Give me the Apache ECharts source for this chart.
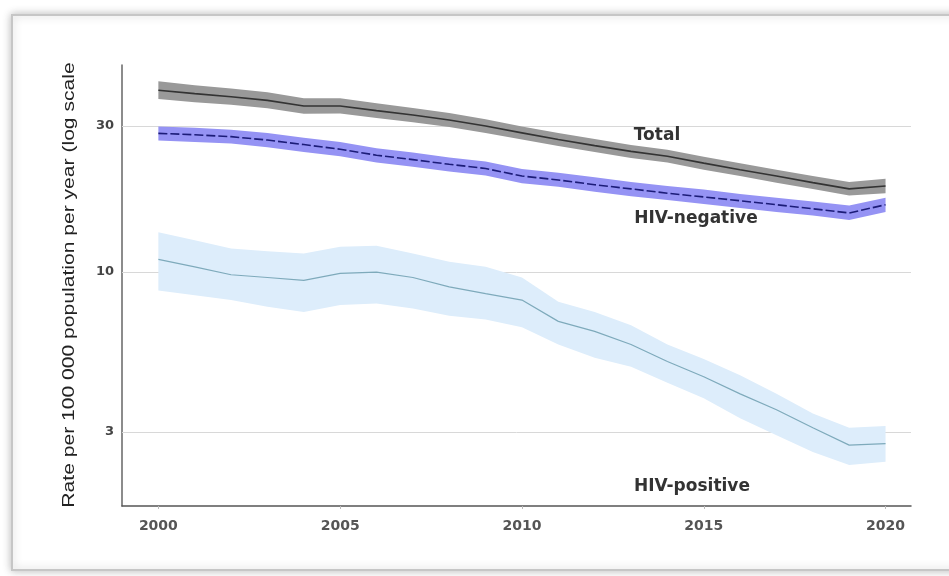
<!DOCTYPE html>
<html>
<head>
<meta charset="utf-8">
<script src="https://cdn.jsdelivr.net/npm/echarts@6/dist/echarts.min.js"></script>
<style>
  html, body { margin: 0; padding: 0; background: #ffffff; }
  #chart { width: 949px; height: 576px; }
</style>
</head>
<body>
<div id="chart"></div>
<script>
// Years on the horizontal axis
const years = [2000, 2001, 2002, 2003, 2004, 2005, 2006, 2007, 2008, 2009, 2010,
               2011, 2012, 2013, 2014, 2015, 2016, 2017, 2018, 2019, 2020];

// Total: estimate with uncertainty interval (rate per 100 000 per year)
const totalMid = [39.3, 38.3, 37.4, 36.4, 34.9, 34.9, 33.7, 32.6, 31.4, 30.0, 28.5,
                  27.1, 25.9, 24.8, 23.9, 22.7, 21.6, 20.6, 19.6, 18.7, 19.1];
const totalHi  = [42.0, 40.8, 39.8, 38.7, 37.0, 37.0, 35.6, 34.4, 33.1, 31.6, 29.9,
                  28.5, 27.2, 26.0, 25.1, 23.8, 22.7, 21.6, 20.6, 19.7, 20.2];
const totalLo  = [36.8, 35.9, 35.2, 34.3, 32.9, 33.0, 31.9, 30.9, 29.8, 28.5, 27.1,
                  25.8, 24.7, 23.6, 22.8, 21.6, 20.6, 19.6, 18.7, 17.8, 18.1];

// HIV-negative
const negMid = [28.4, 28.1, 27.7, 27.0, 26.1, 25.2, 24.1, 23.3, 22.5, 21.8, 20.6,
                20.0, 19.3, 18.7, 18.1, 17.6, 17.1, 16.6, 16.1, 15.6, 16.6];
const negHi  = [29.9, 29.6, 29.2, 28.5, 27.5, 26.6, 25.4, 24.6, 23.7, 23.0, 21.7,
                21.1, 20.4, 19.7, 19.1, 18.6, 18.0, 17.5, 17.0, 16.5, 17.5];
const negLo  = [26.9, 26.6, 26.3, 25.6, 24.7, 23.9, 22.8, 22.1, 21.3, 20.7, 19.5,
                19.0, 18.3, 17.7, 17.2, 16.7, 16.2, 15.7, 15.3, 14.8, 15.7];

// HIV-positive
const posMid = [11.0, 10.4, 9.8, 9.6, 9.4, 9.9, 10.0, 9.6, 8.95, 8.5, 8.1,
                6.9, 6.4, 5.8, 5.1, 4.55, 4.0, 3.55, 3.1, 2.72, 2.75];
const posHi  = [13.5, 12.7, 11.95, 11.7, 11.5, 12.1, 12.2, 11.5, 10.8, 10.4, 9.6,
                8.0, 7.4, 6.7, 5.8, 5.2, 4.6, 4.0, 3.45, 3.1, 3.14];
const posLo  = [8.7, 8.4, 8.1, 7.7, 7.4, 7.8, 7.9, 7.6, 7.2, 7.0, 6.6,
                5.8, 5.25, 4.9, 4.35, 3.87, 3.33, 2.93, 2.58, 2.34, 2.4];

// Axis ticks
const xTicks = [2000, 2005, 2010, 2015, 2020];
const yTicks = [3, 10, 30];

const groupNames = ['Total', 'HIV-negative', 'HIV-positive'];
const yTitle = 'Rate per 100 000 population per year (log scale';

const pair = (arr) => years.map((y, i) => [y, arr[i]]);

// Shaded interval drawn as one polygon: upper edge left→right, lower edge right→left
function band(id, lo, hi, color, z) {
  return {
    name: id + '-band', type: 'custom', silent: true, z: z,
    data: years.map((y, i) => [y, lo[i], hi[i]]),
    encode: { x: 0, y: [1, 2] },
    renderItem: function (params, api) {
      if (params.dataIndex !== 0) return null;
      const pts = [];
      for (let i = 0; i < years.length; i++) pts.push(api.coord([years[i], hi[i]]));
      for (let i = years.length - 1; i >= 0; i--) pts.push(api.coord([years[i], lo[i]]));
      return { type: 'polygon', shape: { points: pts }, style: { fill: color } };
    }
  };
}

const chart = echarts.init(document.getElementById('chart'), null, { renderer: 'canvas' });

const labelFont = { fontFamily: 'DejaVu Sans', fontWeight: 'bold', fontSize: 17, fill: '#333333' };

chart.setOption({
  backgroundColor: '#ffffff',
  animation: false,
  grid: { left: 122, right: 38, top: 65, bottom: 70 },
  graphic: [
    {
      type: 'rect', z: -10, silent: true,
      shape: { x: 12, y: 15, width: 960, height: 555 },
      style: { fill: '#ffffff', stroke: '#c6c6c6', lineWidth: 2,
               shadowBlur: 8, shadowColor: 'rgba(0,0,0,0.25)' }
    },
    {
      // vertical axis title, slightly elongated along its baseline
      type: 'text', x: 69, y: 285, rotation: Math.PI / 2, scaleX: 1.24, z: 50,
      style: { text: yTitle, align: 'center', verticalAlign: 'middle',
               fontFamily: 'Liberation Sans', fontSize: 17, fill: '#222222' }
    },
    { type: 'text', x: 657, y: 136, z: 50, style: Object.assign({ text: groupNames[0], align: 'center', verticalAlign: 'middle' }, labelFont) },
    { type: 'text', x: 696, y: 219, z: 50, style: Object.assign({ text: groupNames[1], align: 'center', verticalAlign: 'middle' }, labelFont) },
    { type: 'text', x: 692, y: 487, z: 50, style: Object.assign({ text: groupNames[2], align: 'center', verticalAlign: 'middle' }, labelFont) }
  ],
  xAxis: {
    type: 'value', min: 1999, max: 2020.7,
    axisLine: { show: true, lineStyle: { color: '#555555', width: 1.5 } },
    axisTick: { show: true, customValues: xTicks, length: 3, lineStyle: { color: '#bbbbbb' } },
    axisLabel: {
      customValues: xTicks, margin: 13,
      fontFamily: 'DejaVu Sans', fontWeight: 'bold', fontSize: 14, color: '#555555',
      formatter: (v) => String(v)
    },
    splitLine: { show: false }
  },
  yAxis: {
    type: 'log', logBase: 10, min: 1.72, max: 47.5,
    axisLine: { show: true, lineStyle: { color: '#666666', width: 1.5 } },
    axisTick: { show: false },
    axisLabel: { show: false },
    splitLine: { show: false }
  },
  series: [
    band('pos', posLo, posHi, '#ddedfb', 2),
    band('neg', negLo, negHi, '#9593f4', 3),
    band('tot', totalLo, totalHi, '#999999', 3),
    {
      name: groupNames[2], type: 'line', data: pair(posMid), symbol: 'none', z: 5,
      lineStyle: { color: '#7eaabb', width: 1.2 },
      markLine: {
        silent: true, symbol: 'none', z: 1,
        lineStyle: { color: '#d8d8d8', width: 1, type: 'solid' },
        label: {
          position: 'start', distance: 8, formatter: '{c}',
          fontFamily: 'DejaVu Sans', fontWeight: 'bold', fontSize: 13, color: '#444444'
        },
        data: yTicks.map((v) => ({ yAxis: v }))
      }
    },
    {
      name: groupNames[1], type: 'line', data: pair(negMid), symbol: 'none', z: 6,
      lineStyle: { color: '#1c1c78', width: 1.6, type: [9, 3] }
    },
    {
      name: groupNames[0], type: 'line', data: pair(totalMid), symbol: 'none', z: 6,
      lineStyle: { color: '#333333', width: 1.6 }
    }
  ]
});
</script>
</body>
</html>
